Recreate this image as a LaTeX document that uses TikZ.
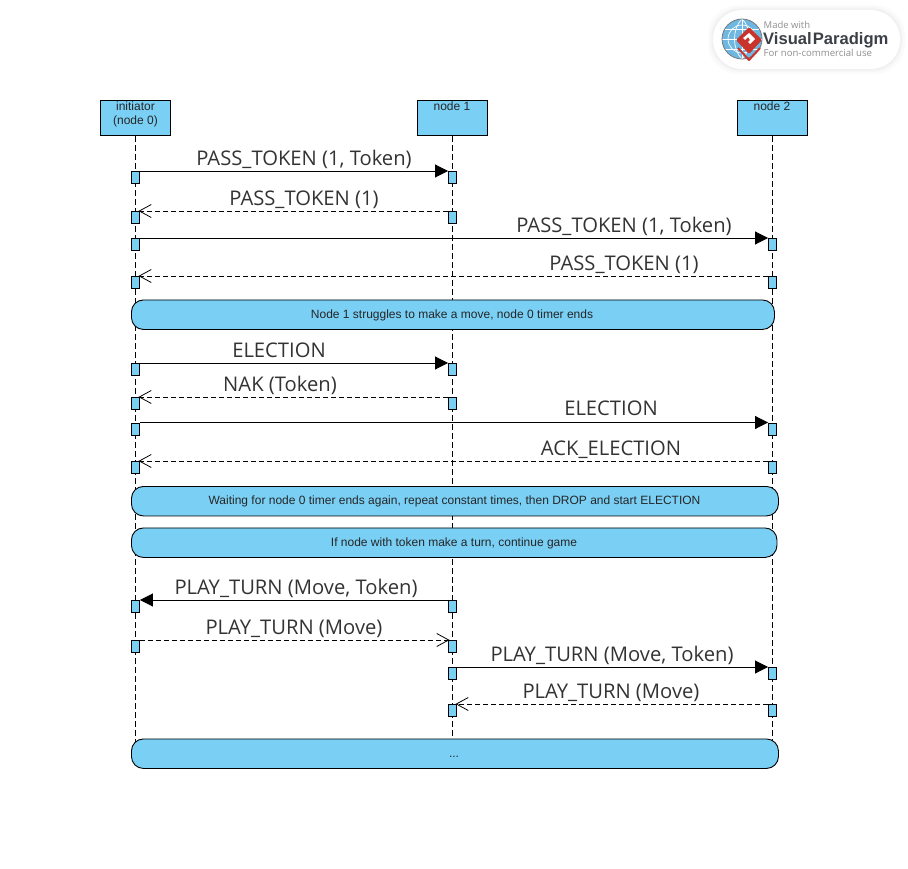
\documentclass[tikz,border=0pt]{standalone}
\usepackage{fontspec}
\setmainfont{Liberation Sans}
\newfontfamily\msgfont{Open Sans}
\usetikzlibrary{arrows.meta,positioning}
\definecolor{vpblue}{HTML}{7ACFF5}
\definecolor{msgtext}{HTML}{333333}
\definecolor{logogrey}{HTML}{8F8F8F}
\definecolor{logodark}{HTML}{3C4046}
\definecolor{logored}{HTML}{C8342C}
\definecolor{globe}{HTML}{6DB7E0}
\tikzset{
  x=1pt,y=-1pt,
  headbox/.style={draw=black,fill=vpblue,line width=0.9pt,minimum width=70pt,minimum height=35pt,inner sep=0pt,anchor=north},
  headtext/.style={font=\fontsize{12}{14}\selectfont,text=black!85,align=center,anchor=north,inner sep=0pt},
  act/.style={draw=black,fill=vpblue,line width=0.9pt,minimum width=8pt,minimum height=12pt,inner sep=0pt,anchor=north},
  lifeline/.style={line width=0.8pt,dash pattern=on 6pt off 3pt},
  sync/.style={line width=0.9pt,-{Triangle[length=13pt,width=13pt,black]}},
  reply/.style={line width=0.8pt,dash pattern=on 5pt off 3pt,shorten >=-1.5pt,-{Straight Barb[length=12pt,width=13pt,line width=0.8pt,black]}},
  msg/.style={font=\msgfont\fontsize{20.2}{23}\selectfont,text=msgtext,inner sep=0pt,anchor=base},
  frame/.style={draw=black,fill=vpblue,line width=0.9pt,rounded corners=12pt,inner sep=0pt,anchor=north west},
  ftext/.style={font=\fontsize{12}{14}\selectfont,text=black!85,inner sep=0pt},
}
\newcommand{\actbox}[3]{\node[act] (#1) at (#2,#3) {};}
\begin{document}
\begin{tikzpicture}
\useasboundingbox (0,0) rectangle (908,869);
% logo
\foreach \g/\o in {5/0.05,3/0.07,1.5/0.09}{
  \fill[black!30,opacity=\o,rounded corners=30pt] (713-\g,10-\g) rectangle (900+\g,69+\g);}
\fill[white,rounded corners=29pt] (713,10) rectangle (900,69);
\fill[globe] (742,39) circle (20pt);
\draw[white,line width=0.7pt] (742,39) circle (14pt);
\draw[white,line width=0.7pt] (742,19) -- (742,59) (722,39) -- (762,39) (725,29) -- (759,29) (725,49) -- (759,49);
\draw[white,line width=0.7pt] (742,19) .. controls (732,28) and (732,50) .. (742,59);
\draw[white,line width=0.7pt] (742,19) .. controls (752,28) and (752,50) .. (742,59);
\draw[logodark!70,line width=0.8pt] (742,39) circle (20pt);
\draw[logored,line width=2pt,line join=round] (738,48) -- (749,60) -- (760,48);
\fill[logored,rounded corners=1.5pt] (749,27) -- (762,40) -- (749,54) -- (736,40) -- cycle;
\fill[white] (749,33) -- (755,39) -- (750,44) -- (748,42) -- (750,40) -- (748,37) -- (745,40) -- (743,38) -- cycle;
\node[anchor=base west,inner sep=0pt,text=logogrey,font=\msgfont\fontsize{9.5}{11}\selectfont] (logoa) at (763.5,29) {Made with};
\node[anchor=base west,inner sep=0pt,text=logodark,font=\fontsize{16.6}{18}\selectfont\bfseries] (logob) at (763,45) {Visual\kern1pt Paradigm};
\node[anchor=base west,inner sep=0pt,text=logogrey,font=\msgfont\fontsize{9.6}{11}\selectfont] (logoc) at (763.5,57) {For non-commercial use};
% lifelines
\node[headbox] (h0) at (135.5,100.5) {};
\node[headbox] (h1) at (452.5,100.5) {};
\node[headbox] (h2) at (772.5,100.5) {};
\node[headtext] (t0) at (135.5,102) {initiator\\(node 0)};
\node[headtext] (t1) at (452,102) {node 1};
\node[headtext] (t2) at (772,102) {node 2};
\coordinate (e0) at (135.5,745);
\coordinate (e1) at (452.5,745);
\coordinate (e2) at (772.5,745);
\draw[lifeline] (h0.south) -- (e0);
\draw[lifeline] (h1.south) -- (e1);
\draw[lifeline] (h2.south) -- (e2);
% frames
\node[frame,minimum width=643pt,minimum height=29.5pt] (f1) at (131,299.5) {};
\node[ftext] (ft1) at (452,315) {Node 1 struggles to make a move, node 0 timer ends};
\node[frame,minimum width=647pt,minimum height=29.5pt] (f2) at (131,486) {};
\node[ftext] (ft2) at (454.5,501) {Waiting for node 0 timer ends again, repeat constant times, then DROP and start ELECTION};
\node[frame,minimum width=645.5pt,minimum height=29.5pt] (f3) at (131,527.5) {};
\node[ftext] (ft3) at (454,543) {If node with token make a turn, continue game};
\node[frame,minimum width=647pt,minimum height=29.5pt] (f4) at (131,738.5) {};
\node[ftext] (ft4) at (454,757) {...};
% activations
\actbox{a1}{135.5}{171}\actbox{b1}{452.5}{171}
\actbox{a2}{135.5}{211}\actbox{b2}{452.5}{211}
\actbox{a3}{135.5}{238}\actbox{c3}{772.5}{238}
\actbox{a4}{135.5}{276}\actbox{c4}{772.5}{276}
\actbox{a5}{135.5}{363}\actbox{b5}{452.5}{363}
\actbox{a6}{135.5}{397}\actbox{b6}{452.5}{397}
\actbox{a7}{135.5}{422.5}\actbox{c7}{772.5}{422.5}
\actbox{a8}{135.5}{461}\actbox{c8}{772.5}{461}
\actbox{a9}{135.5}{600}\actbox{b9}{452.5}{600}
\actbox{a10}{135.5}{640}\actbox{b10}{452.5}{640}
\actbox{b11}{452.5}{667}\actbox{c11}{772.5}{667}
\actbox{b12}{452.5}{704}\actbox{c12}{772.5}{704}
% messages
\draw[sync] (a1.north east) -- (b1.north west);
\draw[reply] (b2.north west) -- (a2.north east);
\draw[sync] (a3.north east) -- (c3.north west);
\draw[reply] (c4.north west) -- (a4.north east);
\draw[sync] (a5.north east) -- (b5.north west);
\draw[reply] (b6.north west) -- (a6.north east);
\draw[sync] (a7.north east) -- (c7.north west);
\draw[reply] (c8.north west) -- (a8.north east);
\draw[sync] (b9.north west) -- (a9.north east);
\draw[reply] (a10.north east) -- (b10.north west);
\draw[sync] (b11.north east) -- (c11.north west);
\draw[reply] (c12.north west) -- (b12.north east);
% labels
\node[msg] (m1) at (304,165.5) {PASS\_TOKEN (1, Token)};
\node[msg] (m2) at (304,205.5) {PASS\_TOKEN (1)};
\node[msg] (m3) at (624,232.5) {PASS\_TOKEN (1, Token)};
\node[msg] (m4) at (624,270.5) {PASS\_TOKEN (1)};
\node[msg] (m5) at (279,357) {ELECTION};
\node[msg] (m6) at (280,391.5) {NAK (Token)};
\node[msg] (m7) at (611,415) {ELECTION};
\node[msg] (m8) at (611,455) {ACK\_ELECTION};
\node[msg] (m9) at (296,594.5) {PLAY\_TURN (Move, Token)};
\node[msg] (m10) at (294,634) {PLAY\_TURN (Move)};
\node[msg] (m11) at (612,661) {PLAY\_TURN (Move, Token)};
\node[msg] (m12) at (611,698) {PLAY\_TURN (Move)};
\end{tikzpicture}
\end{document}
